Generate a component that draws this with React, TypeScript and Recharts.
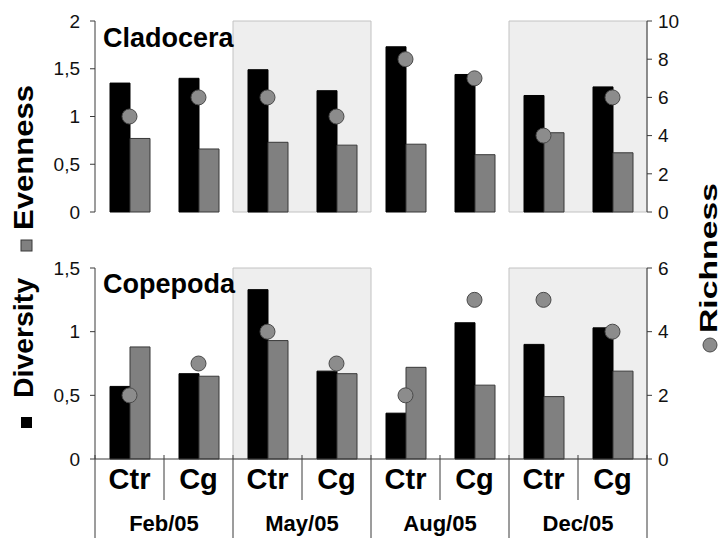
import React from "react";
import { ComposedChart, Bar, Line, XAxis, YAxis, ReferenceArea } from "recharts";

// category labels under each bar pair, and the sampling months (two categories each)
const categories = ["Ctr", "Cg", "Ctr", "Cg", "Ctr", "Cg", "Ctr", "Cg"];
const months = ["Feb/05", "May/05", "Aug/05", "Dec/05"];
const shadedMonths = ["May/05", "Dec/05"];

// Cladocera
const cladoDiversity = [1.35, 1.4, 1.49, 1.27, 1.73, 1.44, 1.22, 1.31];
const cladoEvenness = [0.77, 0.66, 0.73, 0.7, 0.71, 0.6, 0.83, 0.62];
const cladoRichness = [5, 6, 6, 5, 8, 7, 4, 6];

// Copepoda
const copeDiversity = [0.57, 0.67, 1.33, 0.69, 0.36, 1.07, 0.9, 1.03];
const copeEvenness = [0.88, 0.65, 0.93, 0.67, 0.72, 0.58, 0.49, 0.69];
const copeRichness = [2, 3, 4, 3, 2, 5, 5, 4];

const cladoLeftTicks = [0, 0.5, 1, 1.5, 2];
const cladoRightTicks = [0, 2, 4, 6, 8, 10];
const copeLeftTicks = [0, 0.5, 1, 1.5];
const copeRightTicks = [0, 2, 4, 6];

const FONT = "'Liberation Sans', Arial, sans-serif";
const AXIS = "#3a3a3a";

const W = 724;
const M_LEFT = 35;
const M_RIGHT = 27;
const Y_LEFT_W = 60;
const Y_RIGHT_W = 50;
// half the width of one category band
const HALF = (W - M_LEFT - M_RIGHT - Y_LEFT_W - Y_RIGHT_W) / categories.length / 2;

const keyOf = (i: number) => months[Math.floor(i / 2)] + " " + categories[i];

const buildRows = (div: number[], even: number[], rich: number[]) =>
  categories.map((c, i) => ({
    key: keyOf(i),
    diversity: div[i],
    evenness: even[i],
    richness: rich[i],
  }));

const cladoRows = buildRows(cladoDiversity, cladoEvenness, cladoRichness);
const copeRows = buildRows(copeDiversity, copeEvenness, copeRichness);

const commaFmt = (v: number) => String(v).replace(".", ",");

// top panel: only small inward ticks on the category borders
const TopTick = (props: any) => {
  const { x, y, index } = props;
  return (
    <g>
      {index === 0 && <line x1={x - HALF} x2={x - HALF} y1={y - 4} y2={y} stroke={AXIS} />}
      <line x1={x + HALF} x2={x + HALF} y1={y - 4} y2={y} stroke={AXIS} />
    </g>
  );
};

// bottom panel: Ctr / Cg labels, separators and month labels
const BottomTick = (props: any) => {
  const { x, y, index } = props;
  const monthEnd = index % 2 === 1;
  return (
    <g>
      {index === 0 && <line x1={x - HALF} x2={x - HALF} y1={y - 4} y2={y + 79} stroke={AXIS} />}
      <line x1={x + HALF} x2={x + HALF} y1={y - 4} y2={y + (monthEnd ? 79 : 41)} stroke={AXIS} />
      <text x={x} y={y + 30} textAnchor="middle" fontSize={29} fontWeight="bold" fontFamily={FONT} fill="#000">
        {categories[index]}
      </text>
      {monthEnd && (
        <text x={x - HALF} y={y + 72} textAnchor="middle" fontSize={22} fontWeight="bold" fontFamily={FONT} fill="#000">
          {months[(index - 1) / 2]}
        </text>
      )}
    </g>
  );
};

const Panel = (props: any) => {
  const { rows, leftTicks, rightTicks, height, marginTop, bottom } = props;
  return (
    <ComposedChart
      width={W}
      height={height}
      data={rows}
      margin={{ top: marginTop, right: M_RIGHT, left: M_LEFT, bottom: bottom ? 0 : 18 }}
      barGap={0}
    >
      <XAxis
        dataKey="key"
        interval={0}
        height={bottom ? 79 : 0}
        tickSize={0}
        tickMargin={0}
        tickLine={false}
        axisLine={{ stroke: AXIS }}
        tick={bottom ? <BottomTick /> : <TopTick />}
      />
      <YAxis
        yAxisId="l"
        width={Y_LEFT_W}
        domain={[0, leftTicks[leftTicks.length - 1]]}
        ticks={leftTicks}
        interval={0}
        tickFormatter={commaFmt}
        tickSize={5}
        tickMargin={10}
        axisLine={{ stroke: AXIS }}
        tickLine={{ stroke: AXIS }}
        tick={{ fontSize: 19, fill: "#111", fontFamily: FONT }}
      />
      <YAxis
        yAxisId="r"
        orientation="right"
        width={Y_RIGHT_W}
        domain={[0, rightTicks[rightTicks.length - 1]]}
        ticks={rightTicks}
        interval={0}
        tickSize={5}
        tickMargin={6}
        axisLine={{ stroke: AXIS }}
        tickLine={{ stroke: AXIS }}
        tick={{ fontSize: 19, fill: "#111", fontFamily: FONT }}
      />
      {shadedMonths.map((m) => (
        <ReferenceArea
          key={m}
          yAxisId="l"
          x1={m + " Ctr"}
          x2={m + " Cg"}
          fill="#eeeeee"
          fillOpacity={1}
          stroke="#c2c2c2"
        />
      ))}
      <Bar yAxisId="l" dataKey="diversity" barSize={20} fill="#000" stroke="#000" isAnimationActive={false} />
      <Bar yAxisId="l" dataKey="evenness" barSize={20} fill="#808080" stroke="#383838" isAnimationActive={false} />
      <Line
        yAxisId="r"
        dataKey="richness"
        stroke="none"
        dot={{ r: 7.5, fill: "#8c8c8c", stroke: "#4a4a4a", strokeWidth: 1 }}
        activeDot={false}
        isAnimationActive={false}
      />
    </ComposedChart>
  );
};

export default function App() {
  return (
    <div style={{ position: "absolute", left: 0, top: 0, width: 724, height: 538, background: "#fff" }}>
      <div style={{ position: "absolute", left: 0, top: 0 }}>
        <Panel rows={cladoRows} leftTicks={cladoLeftTicks} rightTicks={cladoRightTicks} height={230} marginTop={21} />
      </div>
      <div style={{ position: "absolute", left: 0, top: 230 }}>
        <Panel rows={copeRows} leftTicks={copeLeftTicks} rightTicks={copeRightTicks} height={308} marginTop={38} bottom />
      </div>
      <svg
        width={724}
        height={538}
        style={{ position: "absolute", left: 0, top: 0, pointerEvents: "none" }}
        fontFamily={FONT}
      >
        <text x={103} y={47} fontSize={27} fontWeight="bold" fill="#000">Cladocera</text>
        <text x={103} y={293} fontSize={27} fontWeight="bold" fill="#000">Copepoda</text>

        {/* left legend, reading bottom to top */}
        <rect x={21} y={417} width={11} height={11} fill="#000" />
        <text transform="translate(33,398) rotate(-90)" fontSize={27} fontWeight="bold" fill="#000" textLength={120} lengthAdjust="spacingAndGlyphs">
          Diversity
        </text>
        <rect x={21} y={240} width={11} height={11} fill="#808080" stroke="#383838" />
        <text transform="translate(33,230) rotate(-90)" fontSize={27} fontWeight="bold" fill="#000" textLength={145} lengthAdjust="spacingAndGlyphs">
          Evenness
        </text>

        {/* right legend */}
        <circle cx={710} cy={345} r={7} fill="#8c8c8c" stroke="#4a4a4a" />
        <text transform="translate(717,333) rotate(-90)" fontSize={24} fontWeight="bold" fill="#000" textLength={150} lengthAdjust="spacingAndGlyphs">
          Richness
        </text>
      </svg>
    </div>
  );
}
